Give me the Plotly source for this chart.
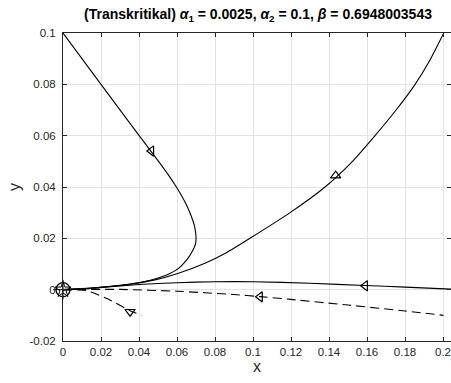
import plotly.graph_objects as go

# Trajectory data
c1_x = [0.0, 0.020, 0.040, 0.050, 0.055, 0.0590, 0.0625, 0.0655, 0.0678, 0.0693, 0.0700,
        0.0698, 0.0690, 0.0677, 0.0660, 0.0635, 0.0607, 0.0560, 0.0520, 0.0460, 0.0396,
        0.0300, 0.0200, 0.0100, 0.0]
c1_y = [0.1, 0.0800, 0.0601, 0.0503, 0.0452, 0.0408, 0.0365, 0.0322, 0.0280, 0.0245, 0.0205,
        0.0180, 0.0163, 0.0145, 0.0125, 0.0102, 0.0082, 0.0062, 0.0050, 0.0037, 0.0027,
        0.0017, 0.0009, 0.0003, 0.0]

c2_x = [0.0, 0.010, 0.020, 0.035, 0.0484, 0.060, 0.0747, 0.0862, 0.0984, 0.1195, 0.1379,
        0.1530, 0.1642, 0.1753, 0.1853, 0.1930, 0.2004]
c2_y = [0.0, 0.0003, 0.0009, 0.0021, 0.0038, 0.0062, 0.0103, 0.0145, 0.0200, 0.0300, 0.0400,
        0.0505, 0.0600, 0.0700, 0.0800, 0.0893, 0.1000]

c3_x = [0.0, 0.010, 0.020, 0.040, 0.060, 0.080, 0.100, 0.130, 0.159, 0.180, 0.2042]
c3_y = [0.0, 0.0004, 0.0009, 0.0020, 0.0027, 0.0031, 0.0031, 0.0025, 0.0016, 0.0010, 0.0002]

c4_x = [0.0, 0.030, 0.060, 0.090, 0.1037, 0.120, 0.150, 0.180, 0.2002]
c4_y = [0.0, 0.0001, -0.0006, -0.0019, -0.0027, -0.0038, -0.0060, -0.0083, -0.0100]

c5_x = [0.0, 0.008, 0.013, 0.0247, 0.0353, 0.0415]
c5_y = [0.0, -0.0001, -0.0004, -0.0040, -0.0082, -0.0100]

# Direction markers
arr_x = [0.0465, 0.1435, 0.159, 0.1037, 0.0353]
arr_y = [0.0540, 0.0444, 0.0015, -0.0028, -0.0086]
arr_sym = ["triangle-left-open", "triangle-up-open", "triangle-left-open",
           "triangle-left-open", "triangle-down-open"]

# Equilibrium point
eq_x = [0.0]
eq_y = [0.0]

x_ticks = [0, 0.02, 0.04, 0.06, 0.08, 0.1, 0.12, 0.14, 0.16, 0.18, 0.2]
x_labels = ["0", "0.02", "0.04", "0.06", "0.08", "0.1", "0.12", "0.14", "0.16", "0.18", "0.2"]
y_ticks = [-0.02, 0, 0.02, 0.04, 0.06, 0.08, 0.1]
y_labels = ["-0.02", "0", "0.02", "0.04", "0.06", "0.08", "0.1"]

FONT = "Liberation Sans, Arial, sans-serif"

fig = go.Figure()
for xs, ys in [(c1_x, c1_y), (c2_x, c2_y), (c3_x, c3_y)]:
    fig.add_trace(go.Scatter(x=xs, y=ys, mode="lines",
                             line=dict(color="black", width=1.1, shape="spline", smoothing=0.6),
                             hoverinfo="skip"))
for xs, ys in [(c4_x, c4_y), (c5_x, c5_y)]:
    fig.add_trace(go.Scatter(x=xs, y=ys, mode="lines",
                             line=dict(color="black", width=1.1, dash="9px,5px", shape="spline", smoothing=0.5),
                             hoverinfo="skip"))
fig.add_trace(go.Scatter(x=arr_x, y=arr_y, mode="markers", cliponaxis=False,
                         marker=dict(symbol=arr_sym, size=9, color="black", line=dict(width=1.2, color="black"))))
fig.add_trace(go.Scatter(x=eq_x, y=eq_y, mode="markers", cliponaxis=False,
                         marker=dict(symbol="circle-open", size=14, color="black", line=dict(width=1.2))))
fig.add_trace(go.Scatter(x=eq_x, y=eq_y, mode="markers", cliponaxis=False,
                         marker=dict(symbol="star-open", size=12, color="black", line=dict(width=1))))
fig.add_trace(go.Scatter(x=eq_x, y=eq_y, mode="markers", cliponaxis=False,
                         marker=dict(symbol="cross-thin-open", size=14, color="black", line=dict(width=1))))

axis_common = dict(showgrid=True, gridcolor="#e3e3e3", gridwidth=1, zeroline=False,
                   showline=True, linecolor="#262626", linewidth=1, mirror="ticks",
                   ticks="inside", ticklen=4, tickcolor="#262626",
                   ticklabeloverflow="allow", layer="above traces",
                   tickfont=dict(family=FONT, size=11.5, color="#262626"))

fig.update_layout(
    width=451, height=383,
    margin=dict(l=63, r=0, t=33, b=42),
    plot_bgcolor="white", paper_bgcolor="white",
    showlegend=False,
    title=dict(text="<b>(Transkritikal) <i>α</i><sub>1</sub> = 0.0025, <i>α</i><sub>2</sub> = 0.1, <i>β</i> = 0.6948003543</b>",
               x=258 / 451, xanchor="center", y=1 - 14 / 383, yanchor="middle",
               font=dict(family=FONT, size=14, color="black")),
    xaxis=dict(axis_common, range=[0, 0.2042], tickvals=x_ticks, ticktext=x_labels,
               title=dict(text="x", standoff=4, font=dict(family=FONT, size=16, color="#262626"))),
    yaxis=dict(axis_common, range=[-0.02, 0.1], tickvals=y_ticks, ticktext=y_labels,
               ticklabelstandoff=4,
               title=dict(text="y", standoff=4, font=dict(family=FONT, size=16, color="#262626"))),
)

fig.write_html("out.html")
